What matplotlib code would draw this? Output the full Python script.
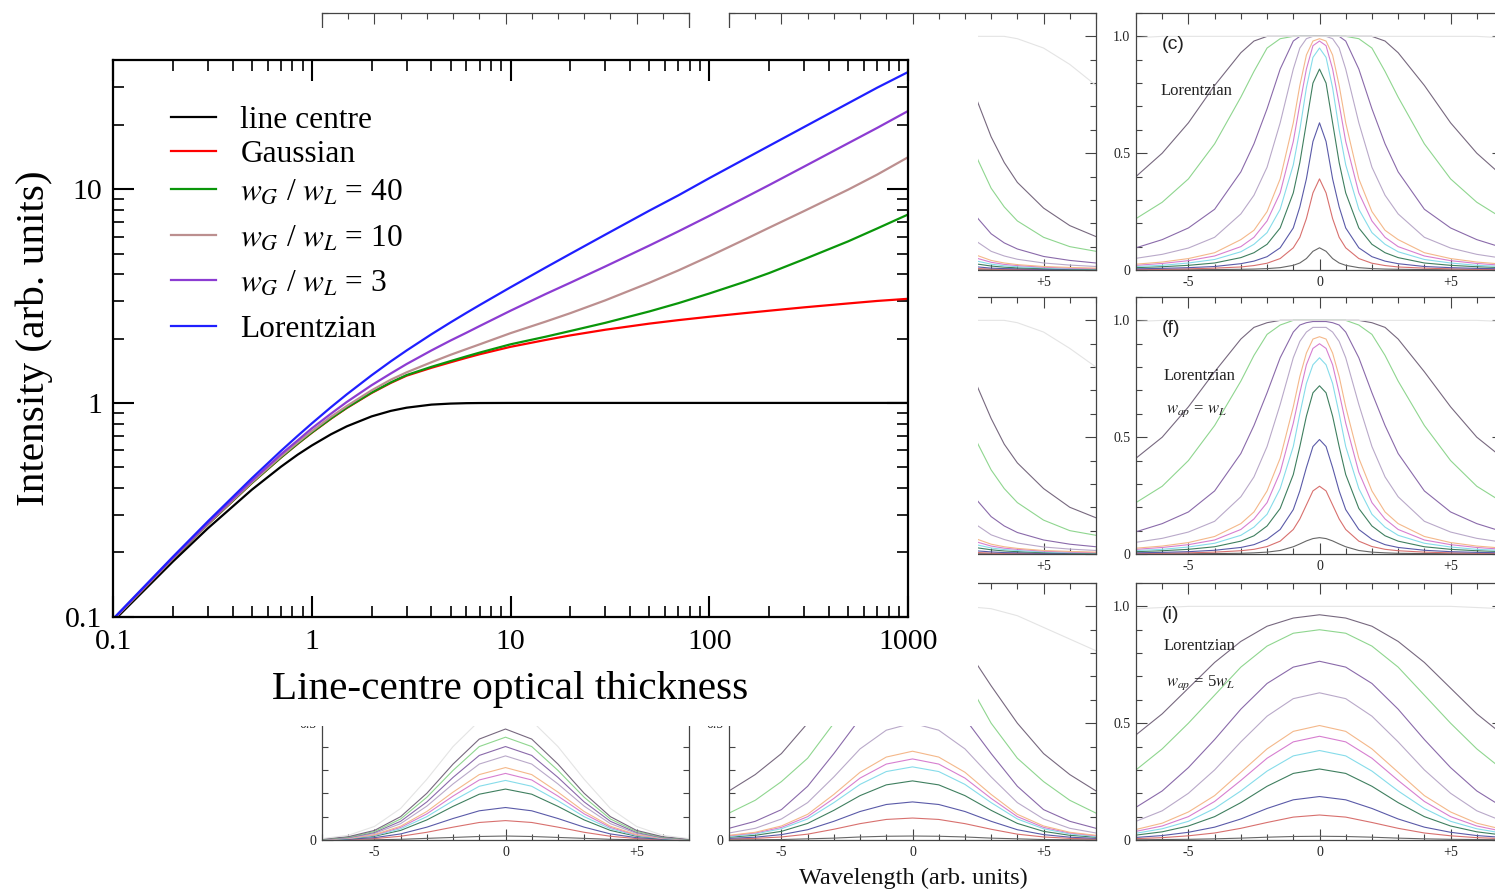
import numpy as np
import matplotlib
matplotlib.use("Agg")
import matplotlib.pyplot as plt
from matplotlib.patches import Rectangle
from matplotlib.ticker import (FixedLocator, FixedFormatter, LogLocator,
                               NullFormatter, FuncFormatter, MultipleLocator)

plt.rcParams["font.family"] = ["Liberation Serif", "DejaVu Serif"]
plt.rcParams["mathtext.fontset"] = "stix"

# ---------------------------------------------------------------------------
# Curve of growth: integrated intensity versus line-centre optical thickness
# ---------------------------------------------------------------------------
tau = [0.1, 0.2, 0.3, 0.5, 0.7, 0.85, 1, 1.25, 1.5, 2, 2.5, 3, 4, 5, 6, 7,
       10, 15, 20, 30, 50, 70, 100, 150, 200, 300, 500, 700, 1000]
line_centre = [0.095, 0.181, 0.259, 0.393, 0.503, 0.573, 0.632, 0.7135,
               0.777, 0.865, 0.918, 0.950, 0.982, 0.993, 0.9975, 0.999,
               1.0, 1.0, 1.0, 1.0, 1.0, 1.0, 1.0, 1.0, 1.0, 1.0, 1.0, 1.0,
               1.0]
gaussian = [0.0966, 0.1866, 0.2706, 0.4225, 0.5553, 0.6442, 0.725, 0.8442,
            0.947, 1.113, 1.241, 1.341, 1.46, 1.55, 1.626, 1.69, 1.83, 1.97,
            2.07, 2.20, 2.35, 2.44, 2.53, 2.63, 2.70, 2.80, 2.92, 3.00, 3.07]
voigt_40 = [0.0966, 0.1867, 0.2708, 0.423, 0.556, 0.6454, 0.727, 0.8464,
            0.95, 1.118, 1.248, 1.35, 1.475, 1.57, 1.651, 1.72, 1.88, 2.04,
            2.17, 2.37, 2.68, 2.93, 3.25, 3.68, 4.05, 4.70, 5.70, 6.55, 7.61]
voigt_10 = [0.0967, 0.1872, 0.2718, 0.426, 0.562, 0.6533, 0.737, 0.8617,
            0.967, 1.145, 1.285, 1.39, 1.55, 1.68, 1.786, 1.88, 2.12, 2.40,
            2.63, 3.02, 3.65, 4.17, 4.85, 5.80, 6.60, 7.90, 9.95, 11.7, 14.1]
voigt_3 = [0.097, 0.1882, 0.274, 0.432, 0.575, 0.6684, 0.76, 0.891, 1.01,
           1.21, 1.374, 1.52, 1.76, 1.96, 2.13, 2.29, 2.70, 3.23, 3.65, 4.35,
           5.45, 6.35, 7.50, 9.10, 10.45, 12.75, 16.40, 19.35, 23.2]
lorentzian = [0.0976, 0.1905, 0.2791, 0.4446, 0.5964, 0.7019, 0.8015,
              0.9555, 1.0965, 1.347, 1.5656, 1.759, 2.095, 2.383, 2.639,
              2.871, 3.475, 4.296, 4.982, 6.128, 7.939, 9.360, 11.256, 13.80,
              15.94, 19.53, 25.22, 29.84, 35.3]

series_labels = ["line centre", "Gaussian", r"$w_G$ / $w_L$ = 40",
                 r"$w_G$ / $w_L$ = 10", r"$w_G$ / $w_L$ = 3", "Lorentzian"]
series_colors = ["#000000", "#ff0000", "#0a960a", "#bc8f8f", "#8c3cd2",
                 "#1f1fff"]

# ---------------------------------------------------------------------------
# Line profiles (right half, symmetric about line centre) for a set of
# line-centre optical thicknesses
# ---------------------------------------------------------------------------
profile_tau = [0.1, 0.5, 1, 2, 3, 4, 5, 10, 20, 50, 100, 1000]
profile_colors = ["#666666", "#d8706e", "#5a5aa8", "#3f7f5f", "#86dcea",
                  "#d77fd0", "#f4b88a", "#b9a9c9", "#8a6aaa", "#8fd68f",
                  "#77687f", "#e4e4e4"]

wave_fine = [0, 0.25, 0.5, 0.75, 1, 1.5, 2, 2.5, 3, 4, 5, 6, 7]
wave_coarse = [0, 1, 2, 3, 4, 5, 6, 7]
wave_wing = [2, 2.5, 3, 3.5, 4, 5, 6, 7]

# (c) Lorentzian, no apparatus broadening
lor_plain = [
    [0.095, 0.08, 0.049, 0.03, 0.02, 0.01, 0.006, 0.004, 0.003, 0.002, 0.001, 0.001, 0.0005],
    [0.39, 0.33, 0.22, 0.14, 0.095, 0.049, 0.029, 0.019, 0.013, 0.008, 0.005, 0.003, 0.0025],
    [0.63, 0.55, 0.39, 0.27, 0.18, 0.095, 0.057, 0.038, 0.027, 0.015, 0.010, 0.007, 0.005],
    [0.86, 0.80, 0.63, 0.46, 0.33, 0.18, 0.11, 0.074, 0.053, 0.030, 0.020, 0.014, 0.010],
    [0.95, 0.91, 0.78, 0.60, 0.45, 0.26, 0.16, 0.11, 0.078, 0.045, 0.030, 0.020, 0.015],
    [0.98, 0.96, 0.86, 0.71, 0.55, 0.33, 0.21, 0.14, 0.10, 0.060, 0.040, 0.028, 0.020],
    [0.99, 0.98, 0.92, 0.79, 0.63, 0.39, 0.25, 0.17, 0.13, 0.074, 0.049, 0.034, 0.025],
    [1.0, 1.0, 0.99, 0.95, 0.86, 0.63, 0.44, 0.32, 0.24, 0.14, 0.094, 0.067, 0.050],
    [1.0, 1.0, 1.0, 1.0, 0.98, 0.86, 0.69, 0.54, 0.42, 0.26, 0.18, 0.13, 0.095],
    [1.0, 1.0, 1.0, 1.0, 1.0, 0.99, 0.95, 0.85, 0.74, 0.54, 0.39, 0.29, 0.22],
    [1.0, 1.0, 1.0, 1.0, 1.0, 1.0, 1.0, 0.98, 0.93, 0.79, 0.63, 0.50, 0.40],
    [1.0, 1.0, 1.0, 1.0, 1.0, 1.0, 1.0, 1.0, 1.0, 1.0, 1.0, 1.0, 0.994],
]

# (f) Lorentzian, apparatus width equal to w_L
lor_ap1 = [
    [0.07, 0.066, 0.056, 0.043, 0.031, 0.015, 0.008, 0.005, 0.003, 0.002, 0.001, 0.001, 0.0005],
    [0.29, 0.27, 0.21, 0.15, 0.105, 0.055, 0.032, 0.02, 0.014, 0.008, 0.005, 0.0035, 0.0025],
    [0.49, 0.46, 0.37, 0.27, 0.19, 0.105, 0.063, 0.04, 0.028, 0.016, 0.010, 0.007, 0.005],
    [0.72, 0.69, 0.59, 0.46, 0.34, 0.195, 0.12, 0.078, 0.055, 0.031, 0.020, 0.014, 0.010],
    [0.84, 0.81, 0.73, 0.60, 0.46, 0.28, 0.17, 0.115, 0.08, 0.046, 0.030, 0.020, 0.015],
    [0.90, 0.88, 0.81, 0.69, 0.56, 0.35, 0.22, 0.15, 0.105, 0.06, 0.04, 0.028, 0.020],
    [0.93, 0.92, 0.86, 0.76, 0.63, 0.41, 0.27, 0.18, 0.13, 0.075, 0.049, 0.034, 0.025],
    [0.97, 0.97, 0.95, 0.91, 0.84, 0.64, 0.46, 0.33, 0.245, 0.14, 0.094, 0.067, 0.05],
    [0.995, 0.995, 0.99, 0.98, 0.95, 0.84, 0.69, 0.55, 0.43, 0.27, 0.18, 0.13, 0.095],
    [1.0, 1.0, 1.0, 1.0, 1.0, 0.98, 0.94, 0.85, 0.74, 0.55, 0.40, 0.29, 0.22],
    [1.0, 1.0, 1.0, 1.0, 1.0, 1.0, 0.99, 0.97, 0.92, 0.78, 0.63, 0.50, 0.41],
    [1.0, 1.0, 1.0, 1.0, 1.0, 1.0, 1.0, 1.0, 1.0, 1.0, 1.0, 1.0, 0.995],
]

# (i) Lorentzian, apparatus width 5 w_L
lor_ap5 = [
    [0.016, 0.015, 0.012, 0.008, 0.005, 0.003, 0.002, 0.001],
    [0.107, 0.098, 0.075, 0.05, 0.03, 0.018, 0.01, 0.006],
    [0.186, 0.172, 0.135, 0.09, 0.055, 0.033, 0.019, 0.011],
    [0.304, 0.285, 0.23, 0.16, 0.10, 0.06, 0.035, 0.021],
    [0.383, 0.36, 0.295, 0.21, 0.135, 0.08, 0.048, 0.029],
    [0.444, 0.42, 0.35, 0.255, 0.165, 0.10, 0.06, 0.037],
    [0.49, 0.465, 0.39, 0.29, 0.19, 0.12, 0.072, 0.045],
    [0.63, 0.605, 0.53, 0.42, 0.30, 0.20, 0.125, 0.08],
    [0.765, 0.74, 0.67, 0.56, 0.43, 0.31, 0.21, 0.14],
    [0.90, 0.885, 0.83, 0.74, 0.62, 0.50, 0.39, 0.30],
    [0.964, 0.95, 0.915, 0.85, 0.76, 0.65, 0.54, 0.45],
    [1.0, 1.0, 1.0, 1.0, 1.0, 1.0, 0.995, 0.99],
]

# (g) Gaussian, apparatus width 5 w_L
gau_ap5 = [
    [0.017, 0.015, 0.011, 0.007, 0.003, 0.001, 0.0, 0.0],
    [0.083, 0.075, 0.055, 0.033, 0.016, 0.006, 0.002, 0.0],
    [0.139, 0.125, 0.092, 0.055, 0.026, 0.010, 0.003, 0.001],
    [0.218, 0.196, 0.144, 0.086, 0.041, 0.016, 0.005, 0.001],
    [0.255, 0.23, 0.168, 0.10, 0.048, 0.019, 0.006, 0.0015],
    [0.285, 0.257, 0.188, 0.112, 0.054, 0.021, 0.007, 0.002],
    [0.31, 0.28, 0.205, 0.122, 0.059, 0.023, 0.0075, 0.002],
    [0.36, 0.325, 0.24, 0.145, 0.07, 0.028, 0.009, 0.002],
    [0.40, 0.362, 0.268, 0.163, 0.08, 0.032, 0.01, 0.003],
    [0.44, 0.40, 0.298, 0.183, 0.09, 0.036, 0.012, 0.003],
    [0.475, 0.432, 0.325, 0.20, 0.10, 0.041, 0.014, 0.004],
    [0.55, 0.51, 0.40, 0.26, 0.135, 0.058, 0.02, 0.006],
]

# (h) Voigt, apparatus width 5 w_L
voi_ap5 = [
    [0.017, 0.016, 0.013, 0.008, 0.005, 0.002, 0.001, 0.001],
    [0.094, 0.088, 0.07, 0.046, 0.025, 0.013, 0.007, 0.004],
    [0.163, 0.152, 0.122, 0.08, 0.044, 0.023, 0.012, 0.007],
    [0.253, 0.236, 0.19, 0.127, 0.071, 0.037, 0.02, 0.012],
    [0.313, 0.293, 0.238, 0.16, 0.09, 0.048, 0.026, 0.015],
    [0.347, 0.325, 0.265, 0.178, 0.10, 0.054, 0.03, 0.018],
    [0.38, 0.355, 0.29, 0.195, 0.11, 0.06, 0.033, 0.02],
    [0.50, 0.47, 0.39, 0.27, 0.16, 0.09, 0.05, 0.03],
    [0.64, 0.61, 0.52, 0.37, 0.23, 0.13, 0.08, 0.05],
    [0.82, 0.79, 0.70, 0.50, 0.35, 0.25, 0.17, 0.115],
    [0.93, 0.91, 0.83, 0.66, 0.50, 0.37, 0.28, 0.21],
    [1.0, 1.0, 1.0, 0.99, 0.96, 0.91, 0.86, 0.81],
]

# (b) Voigt wings, no apparatus broadening
voi_plain_wing = [
    [0.002, 0.001, 0.001, 0.001, 0.0005, 0.0003, 0.0002, 0.0002],
    [0.009, 0.006, 0.004, 0.003, 0.0025, 0.0015, 0.001, 0.001],
    [0.019, 0.013, 0.008, 0.006, 0.005, 0.003, 0.002, 0.0015],
    [0.037, 0.025, 0.017, 0.012, 0.009, 0.006, 0.004, 0.003],
    [0.055, 0.037, 0.025, 0.018, 0.014, 0.009, 0.006, 0.005],
    [0.073, 0.049, 0.033, 0.024, 0.019, 0.012, 0.008, 0.006],
    [0.09, 0.061, 0.041, 0.03, 0.023, 0.015, 0.011, 0.008],
    [0.17, 0.118, 0.08, 0.06, 0.046, 0.03, 0.021, 0.015],
    [0.31, 0.22, 0.155, 0.116, 0.09, 0.058, 0.041, 0.03],
    [0.61, 0.47, 0.35, 0.27, 0.21, 0.14, 0.10, 0.08],
    [0.87, 0.715, 0.57, 0.46, 0.375, 0.265, 0.19, 0.143],
    [1.0, 1.0, 1.0, 1.0, 0.99, 0.95, 0.88, 0.79],
]

# (e) Voigt wings, apparatus width equal to w_L
voi_ap1_wing = [
    [0.002, 0.001, 0.001, 0.001, 0.0005, 0.0003, 0.0002, 0.0002],
    [0.009, 0.006, 0.004, 0.003, 0.0025, 0.0015, 0.001, 0.001],
    [0.019, 0.013, 0.009, 0.006, 0.005, 0.003, 0.002, 0.0015],
    [0.037, 0.026, 0.018, 0.013, 0.01, 0.006, 0.004, 0.003],
    [0.055, 0.038, 0.026, 0.019, 0.015, 0.009, 0.006, 0.005],
    [0.073, 0.05, 0.034, 0.025, 0.02, 0.012, 0.008, 0.006],
    [0.09, 0.062, 0.042, 0.031, 0.024, 0.015, 0.011, 0.008],
    [0.17, 0.12, 0.082, 0.062, 0.047, 0.03, 0.021, 0.015],
    [0.31, 0.225, 0.16, 0.12, 0.092, 0.06, 0.042, 0.031],
    [0.60, 0.47, 0.36, 0.28, 0.22, 0.145, 0.10, 0.08],
    [0.85, 0.71, 0.58, 0.47, 0.39, 0.28, 0.20, 0.155],
    [1.0, 1.0, 1.0, 1.0, 0.99, 0.95, 0.88, 0.80],
]

W, H = 1495, 893
fig = plt.figure(figsize=(W / 100, H / 100), dpi=100)


def px_box(left, top, right, bottom):
    return [left / W, 1 - bottom / H, (right - left) / W, (bottom - top) / H]


def style_panel(ax, xlabels=("-5", "0", "+5"), ylabels=True):
    ax.set_xlim(-7, 7)
    ax.set_ylim(0, 1.1)
    ax.xaxis.set_major_locator(FixedLocator([-5, 0, 5]))
    ax.xaxis.set_major_formatter(FixedFormatter(list(xlabels)))
    ax.xaxis.set_minor_locator(MultipleLocator(1))
    ax.yaxis.set_major_locator(FixedLocator([0, 0.5, 1.0]))
    ax.yaxis.set_major_formatter(FixedFormatter(["0", "0.5", "1.0"]))
    ax.yaxis.set_minor_locator(MultipleLocator(0.1))
    ax.tick_params(which="both", direction="in", top=True, right=True,
                   color="#444444", labelcolor="#222222", labelsize=10,
                   width=0.8, pad=4, labelleft=ylabels)
    ax.tick_params(which="major", length=8)
    ax.tick_params(which="minor", length=4.3)
    for s in ax.spines.values():
        s.set_color("#444444")
        s.set_linewidth(0.9)
    ax.set_facecolor("none")


def draw_symmetric(ax, wave, curves):
    w = np.asarray(wave, dtype=float)
    xs = np.concatenate([-w[::-1], w[1:]])
    for vals, col in zip(curves, profile_colors):
        v = np.asarray(vals, dtype=float)
        ax.plot(xs, np.concatenate([v[::-1], v[1:]]), color=col, lw=0.8)


def draw_wing(ax, wave, curves):
    for vals, col in zip(curves, profile_colors):
        ax.plot(wave, vals, color=col, lw=0.8)


col_left = [322, 729, 1136]
row_top = [13, 297, 583]
panel_w, panel_h = 367, 257

panels = {}
for r in range(3):
    for c in range(3):
        a = fig.add_axes(px_box(col_left[c], row_top[r],
                                col_left[c] + panel_w, row_top[r] + panel_h))
        a.set_zorder(0)
        if r < 2 and c == 0:
            # these sit fully behind the curve-of-growth plot
            style_panel(a, xlabels=("", "", ""), ylabels=False)
        elif r < 2 and c == 1:
            style_panel(a, xlabels=("", "", "+5"), ylabels=False)
        else:
            style_panel(a)
        panels[(r, c)] = a

draw_wing(panels[(0, 1)], wave_wing, voi_plain_wing)
draw_wing(panels[(1, 1)], wave_wing, voi_ap1_wing)
draw_symmetric(panels[(0, 2)], wave_fine, lor_plain)
draw_symmetric(panels[(1, 2)], wave_fine, lor_ap1)
draw_symmetric(panels[(2, 0)], wave_coarse, gau_ap5)
draw_symmetric(panels[(2, 1)], wave_coarse, voi_ap5)
draw_symmetric(panels[(2, 2)], wave_coarse, lor_ap5)

sans = ["Liberation Sans", "DejaVu Sans"]
for r, letter in enumerate(["(c)", "(f)", "(i)"]):
    panels[(r, 2)].text(-6.0, 0.965, letter, family=sans, fontsize=14,
                        va="center", ha="left", color="#222222")
panels[(0, 2)].text(-6.05, 0.765, "Lorentzian", fontsize=12, va="center",
                    ha="left", color="#222222")
panels[(1, 2)].text(-5.95, 0.76, "Lorentzian", fontsize=12, va="center",
                    ha="left", color="#222222")
panels[(1, 2)].text(-5.85, 0.61, r"$w_{ap}$ = $w_L$", fontsize=12,
                    va="center", ha="left", color="#222222")
panels[(2, 2)].text(-5.95, 0.83, "Lorentzian", fontsize=12, va="center",
                    ha="left", color="#222222")
panels[(2, 2)].text(-5.85, 0.675, r"$w_{ap}$ = 5$w_L$", fontsize=12,
                    va="center", ha="left", color="#222222")

fig.text(913 / W, 1 - 878 / H, "Wavelength (arb. units)", fontsize=17.5,
         ha="center", va="center", color="#111111")

# white backing for the curve-of-growth plot
fig.add_artist(Rectangle((0, 1 - 726 / H), 978 / W, (726 - 28) / H,
                         transform=fig.transFigure, facecolor="white",
                         edgecolor="none", zorder=1))

ax = fig.add_axes(px_box(113, 60, 908, 616.7))
ax.set_zorder(2)
ax.set_facecolor("white")
ys = [line_centre, gaussian, voigt_40, voigt_10, voigt_3, lorentzian]
handles = []
for y, col, lab in zip(ys, series_colors, series_labels):
    h, = ax.plot(tau, y, color=col, lw=1.6, label=lab)
    handles.append(h)

ax.set_xscale("log")
ax.set_yscale("log")
ax.set_xlim(0.1, 1000)
ax.set_ylim(0.1, 40.2)
fmt = FuncFormatter(lambda v, p: f"{v:g}")
ax.xaxis.set_major_locator(LogLocator(base=10))
ax.yaxis.set_major_locator(LogLocator(base=10))
ax.xaxis.set_major_formatter(fmt)
ax.yaxis.set_major_formatter(fmt)
ax.xaxis.set_minor_locator(LogLocator(base=10, subs=range(2, 10)))
ax.yaxis.set_minor_locator(LogLocator(base=10, subs=range(2, 10)))
ax.xaxis.set_minor_formatter(NullFormatter())
ax.yaxis.set_minor_formatter(NullFormatter())
ax.tick_params(which="both", direction="in", top=True, right=True,
               labelsize=21.5, color="black")
ax.tick_params(which="major", length=15, width=1.5)
ax.tick_params(which="minor", length=8, width=1.2)
ax.tick_params(axis="x", which="major", pad=9)
ax.tick_params(axis="y", which="major", pad=8)
for s in ax.spines.values():
    s.set_linewidth(1.6)

ax.set_xlabel("Line-centre optical thickness", fontsize=29.7, va="center")
ax.xaxis.set_label_coords(0.5, (616.7 - 689) / 556.7)
ax.set_ylabel("Intensity (arb. units)", fontsize=29.7, va="center")
ax.yaxis.set_label_coords((34 - 113) / 795, 0.5)

legend_kw = dict(loc="upper left", frameon=False, fontsize=22.6,
                 handlelength=1.44, handletextpad=0.77, borderpad=0,
                 borderaxespad=0)
leg_top = ax.legend(handles=handles[:2], labelspacing=0.15,
                    bbox_to_anchor=((171 - 113) / 795, (616.7 - 106) / 556.7),
                    **legend_kw)
ax.add_artist(leg_top)
ax.legend(handles=handles[2:], labelspacing=0.53,
          bbox_to_anchor=((171 - 113) / 795, (616.7 - 178) / 556.7),
          **legend_kw)

fig.savefig("out.png", dpi=100)
